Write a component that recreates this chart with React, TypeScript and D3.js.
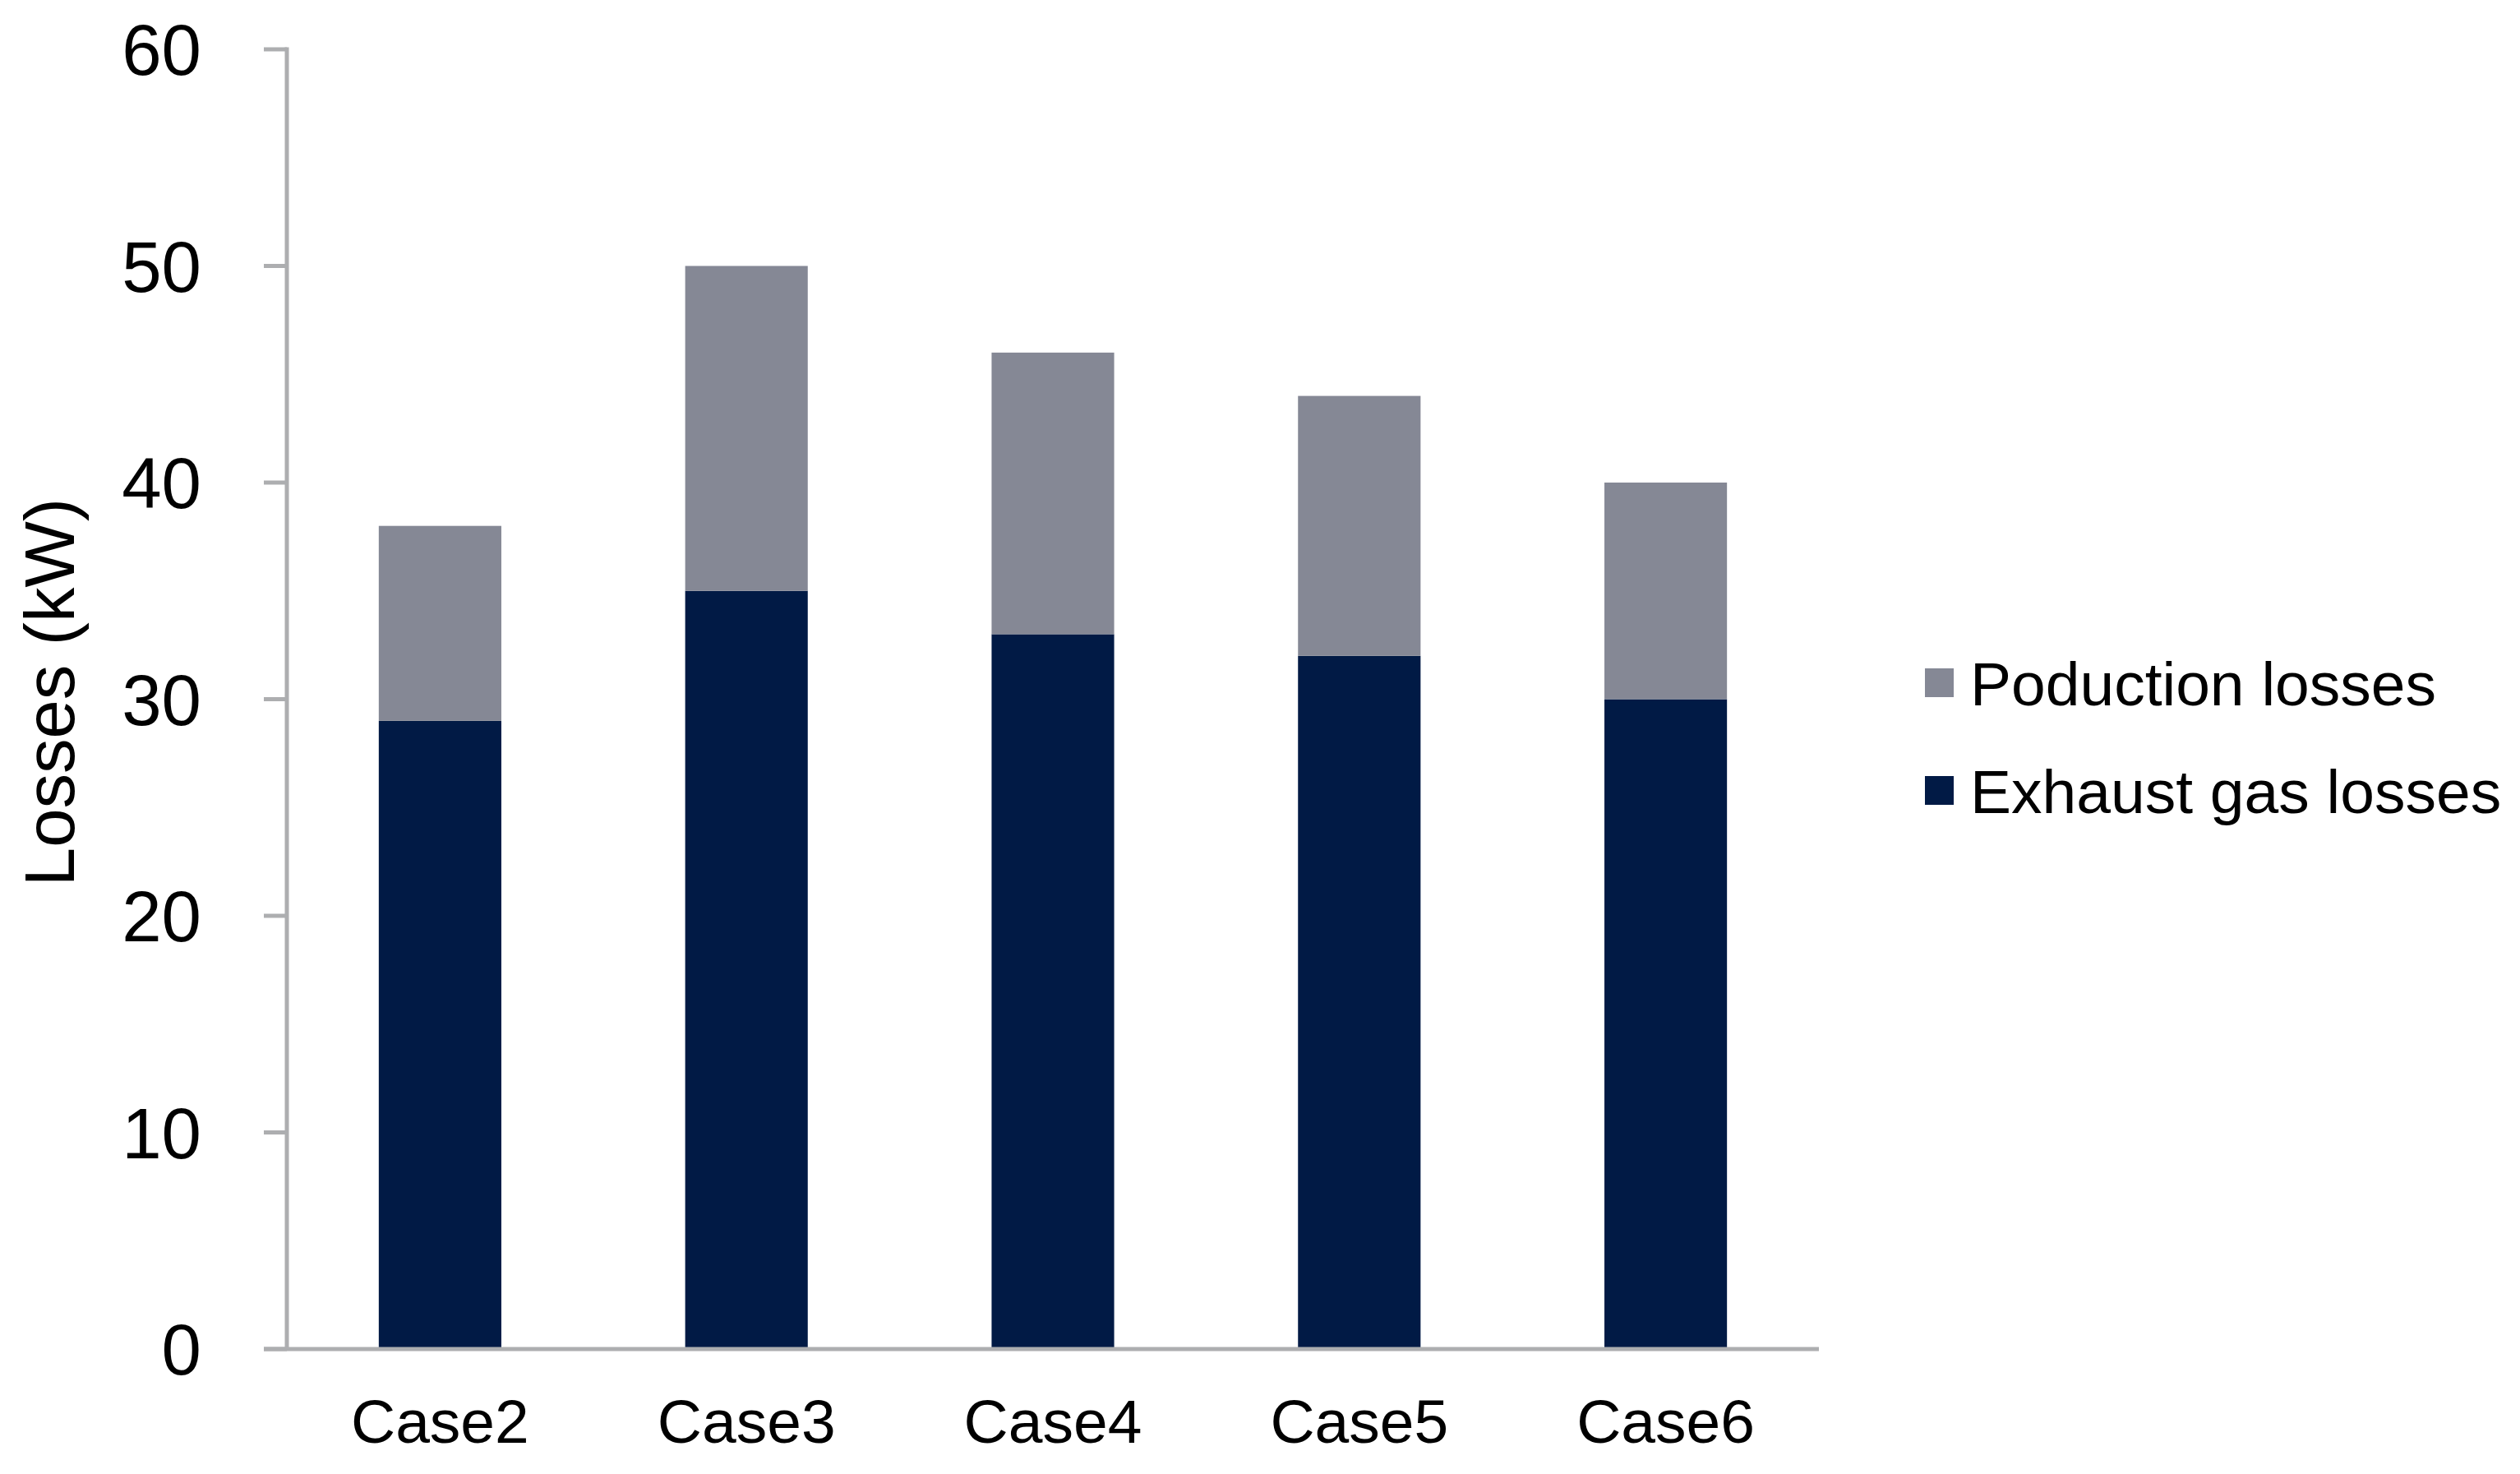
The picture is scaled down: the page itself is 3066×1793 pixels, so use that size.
import React from "react";
import * as d3 from "d3";

const categories = ["Case2", "Case3", "Case4", "Case5", "Case6"];
const exhaustLosses = [29, 35, 33, 32, 30];
const productionLosses = [9, 15, 13, 12, 10];
const seriesNames = ["Exhaust gas losses", "Poduction losses"];
const seriesColors = ["#011a45", "#858895"];
const yTicks = [0, 10, 20, 30, 40, 50, 60];
const yTitle = "Losses (kW)";

const W = 3066;
const H = 1793;
const left = 349;
const right = 2213;
const top = 60;
const bottom = 1641;
const FONT = "'Liberation Sans', Arial, sans-serif";
const AXIS = "#adaeb0";

export default function App() {
  const x = d3
    .scaleBand<string>()
    .domain(categories)
    .range([left, right])
    .paddingInner(0.6)
    .paddingOuter(0.3);
  const y = d3.scaleLinear().domain([0, 60]).range([bottom, top]);

  const rows = categories.map((c, i) => ({
    cat: c,
    exhaust: exhaustLosses[i],
    production: productionLosses[i],
  }));
  const stack = d3.stack<any>().keys(["exhaust", "production"]);
  const layers = stack(rows);

  const legendItems = [
    { name: seriesNames[1], color: seriesColors[1], cy: 831 },
    { name: seriesNames[0], color: seriesColors[0], cy: 962 },
  ];

  return (
    <svg
      width={W}
      height={H}
      style={{ position: "absolute", left: 0, top: 0, background: "#fff" }}
    >
      {layers.map((layer, li) => (
        <g key={li} fill={seriesColors[li]}>
          {layer.map((d: any, i: number) => (
            <rect
              key={i}
              x={x(categories[i])}
              y={y(d[1])}
              width={x.bandwidth()}
              height={y(d[0]) - y(d[1])}
            />
          ))}
        </g>
      ))}
      {/* y axis */}
      <line x1={left} x2={left} y1={top - 2.5} y2={bottom} stroke={AXIS} strokeWidth={5} />
      {yTicks.map((t) => (
        <g key={t}>
          <line x1={left - 28} x2={left} y1={y(t)} y2={y(t)} stroke={AXIS} strokeWidth={5} />
          <text
            x={245}
            y={y(t)}
            dy="0.36em"
            textAnchor="end"
            fontFamily={FONT}
            fontSize={87}
            fill="#000"
          >
            {t}
          </text>
        </g>
      ))}
      {/* x axis */}
      <line x1={left - 28} x2={right} y1={bottom} y2={bottom} stroke={AXIS} strokeWidth={5} />
      {categories.map((c) => (
        <text
          key={c}
          x={(x(c) as number) + x.bandwidth() / 2}
          y={1755}
          textAnchor="middle"
          fontFamily={FONT}
          fontSize={75}
          fill="#000"
        >
          {c}
        </text>
      ))}
      <text
        transform={`translate(90, 842) rotate(-90)`}
        textAnchor="middle"
        fontFamily={FONT}
        fontSize={85}
        fill="#000"
      >
        {yTitle}
      </text>
      {legendItems.map((it) => (
        <g key={it.name}>
          <rect x={2342} y={it.cy - 18} width={35} height={35} fill={it.color} />
          <text
            x={2397}
            y={it.cy}
            dy="0.36em"
            fontFamily={FONT}
            fontSize={75}
            fill="#000"
          >
            {it.name}
          </text>
        </g>
      ))}
    </svg>
  );
}
